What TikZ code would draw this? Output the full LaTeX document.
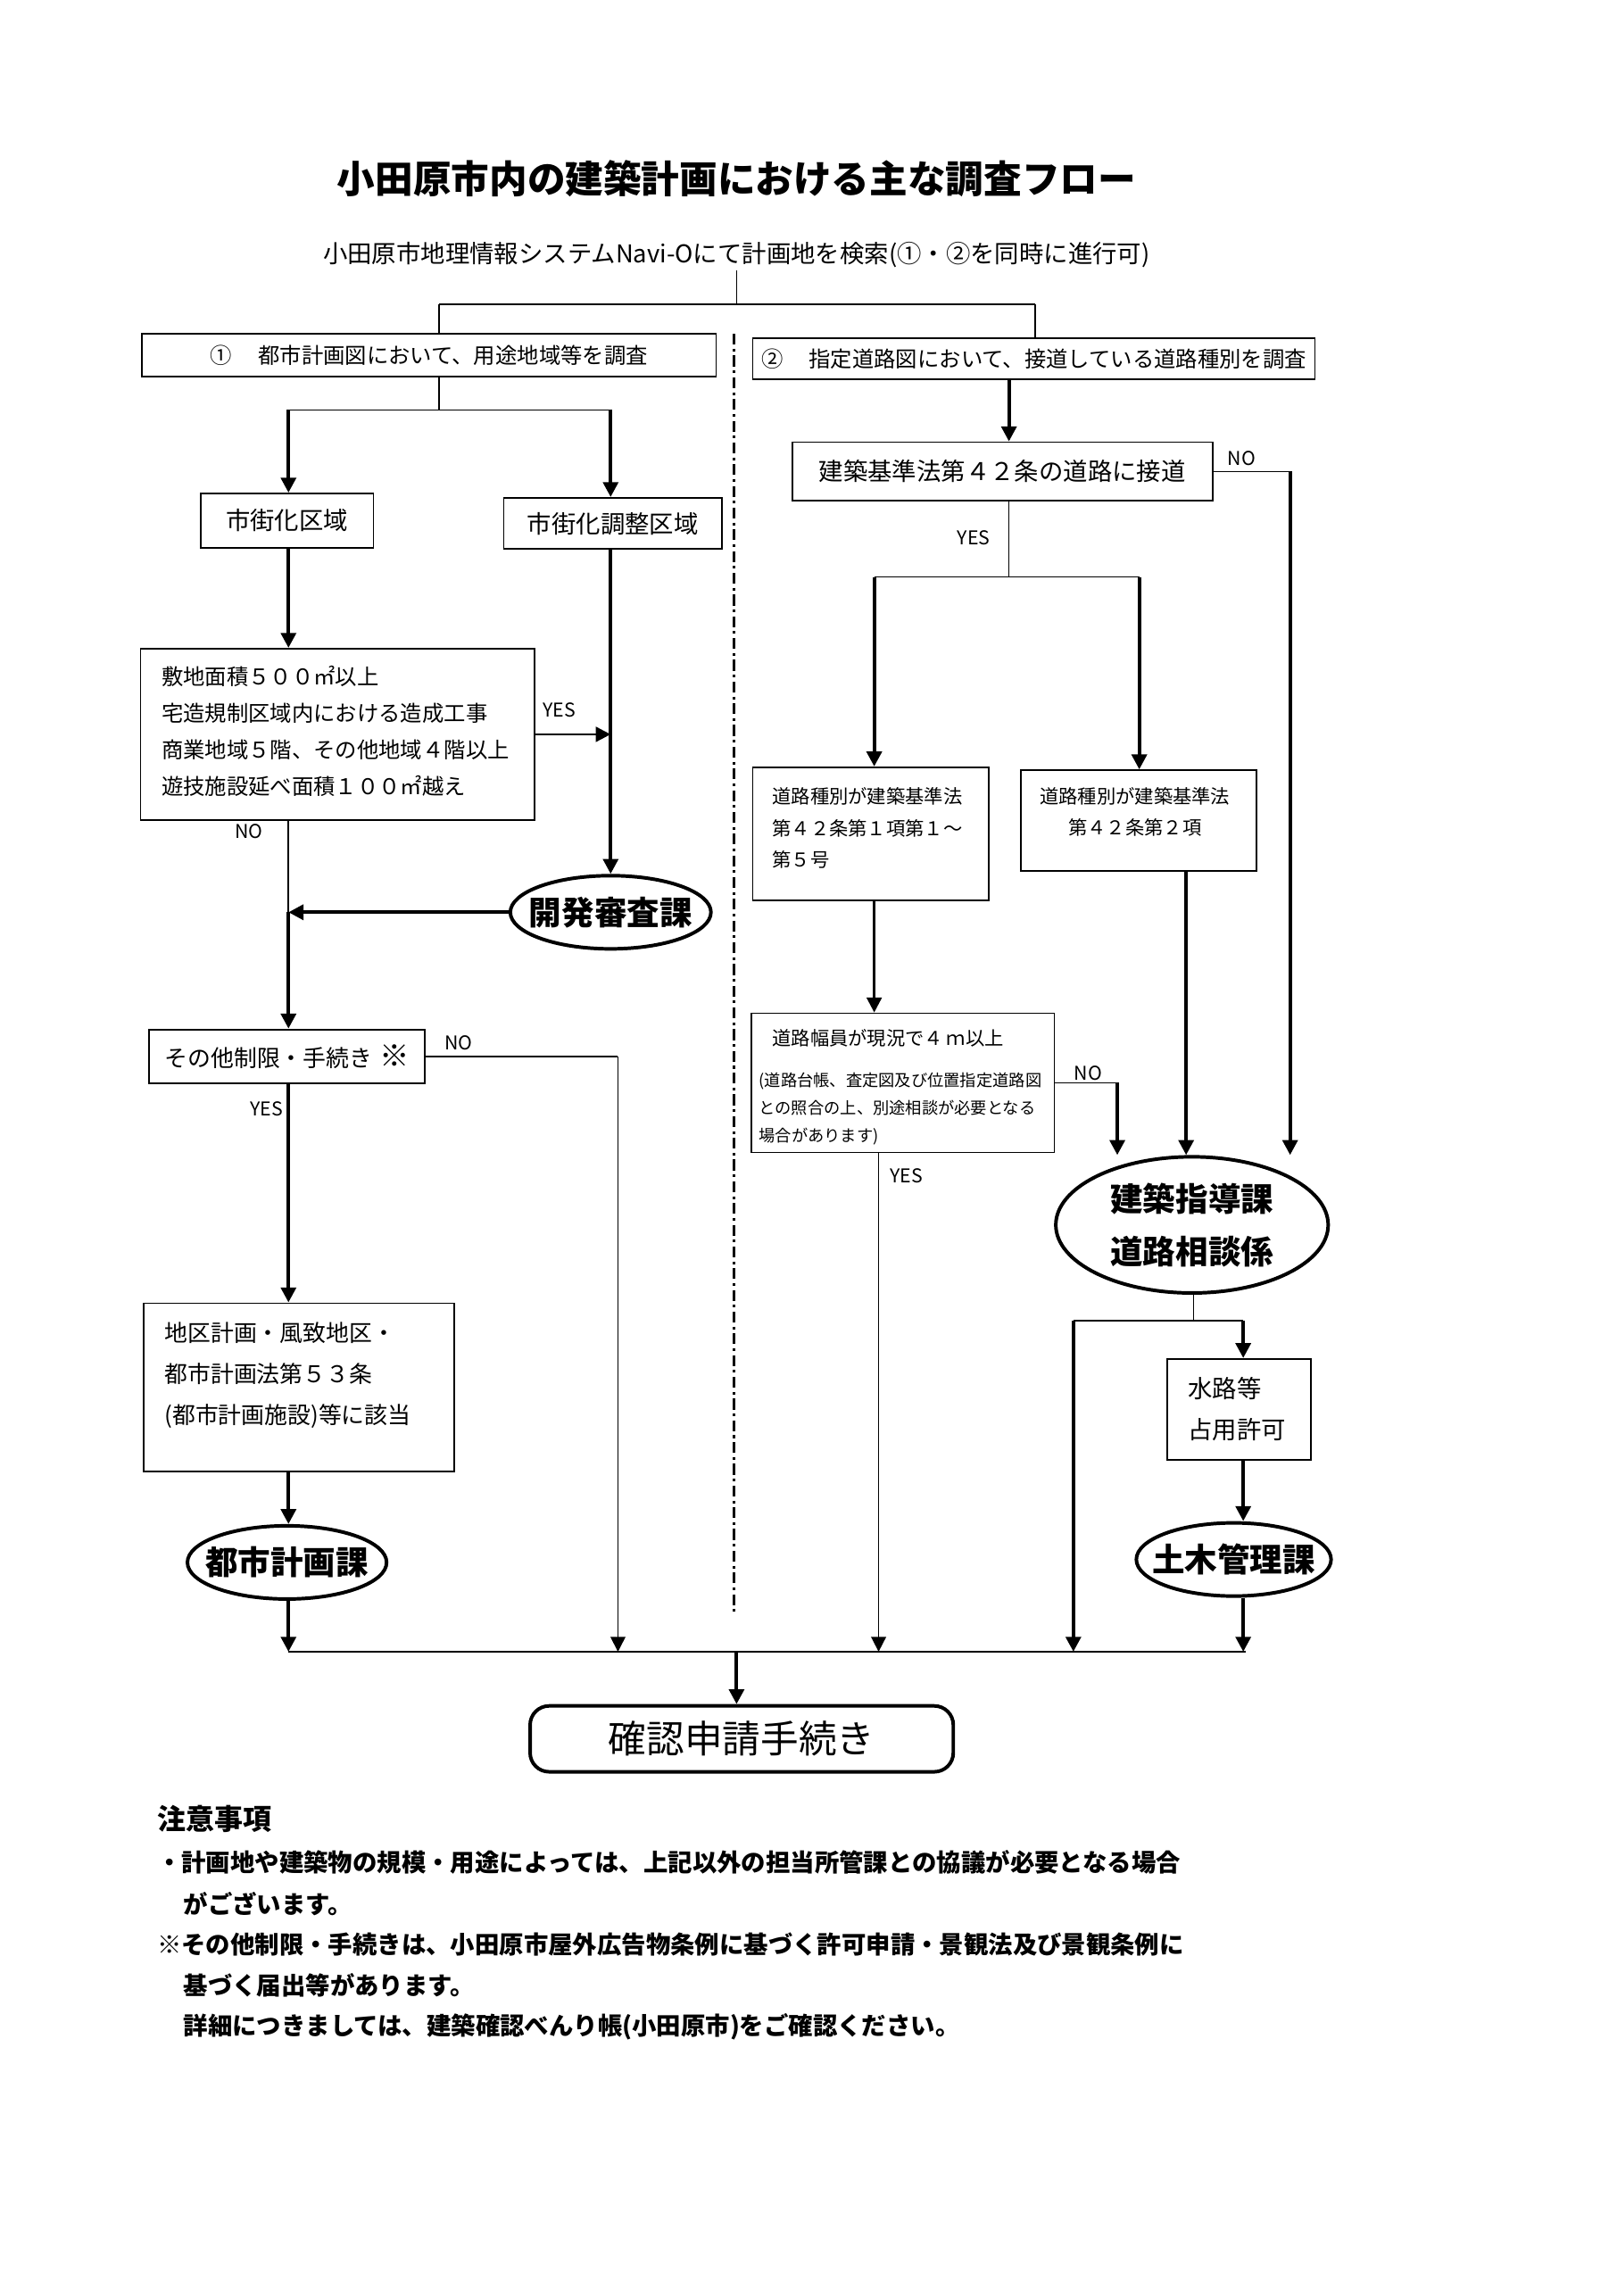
\documentclass[tikz,border=0pt]{standalone}
\usepackage{fontspec}
\setmainfont{Noto Sans CJK JP}
\usetikzlibrary{shapes.geometric,arrows.meta}
\newcommand{\pxu}{0.5391pt}
\begin{document}
\begin{tikzpicture}[x=\pxu,y=-\pxu,
  thinl/.style={line width=0.55pt},
  medl/.style={line width=0.9pt},
  thickl/.style={line width=1.3pt},
  arr/.style={-{Triangle[length=5.5pt,width=5.5pt]}},
  box/.style={draw,rectangle,line width=0.6pt,inner sep=0pt},
  ell/.style={draw,ellipse,line width=1.3pt,inner sep=0pt},
  etext/.style={font=\fontsize{12}{19.4}\bfseries\selectfont,inner sep=0pt,align=center},
  lab/.style={font=\fontsize{7}{8}\selectfont,inner sep=0pt},
  note/.style={anchor=west,inner sep=0pt,font=\fontsize{9}{11}\bfseries\selectfont}]
\path[use as bounding box,fill=white] (0,0) rectangle (1104,1568);

% title
\node[font=\fontsize{14}{16}\bfseries\selectfont] (title) at (503,122) {小田原市内の建築計画における主な調査フロー};
\node[font=\fontsize{9}{11}\selectfont,inner sep=1pt] (sub) at (503,174) {小田原市地理情報システムNavi-Oにて計画地を検索(①・②を同時に進行可)};

% top boxes
\node[box,minimum width=392*\pxu,minimum height=29*\pxu,font=\fontsize{8}{10}\selectfont] (box1) at (293,242.5) {①\hspace{1.2em}都市計画図において、用途地域等を調査};
\node[box,minimum width=384*\pxu,minimum height=28*\pxu,font=\fontsize{8}{10}\selectfont] (box2) at (706,245) {②\hspace{1.2em}指定道路図において、接道している道路種別を調査};

% divider
\coordinate (dv1) at (501,228);
\coordinate (dv2) at (501,1103);
\draw[line width=1pt,dash pattern=on 4pt off 1.5pt on 1pt off 1.5pt] (dv1) -- (dv2);

% left column nodes
\node[box,minimum width=118*\pxu,minimum height=37*\pxu,font=\fontsize{9}{11}\selectfont] (shigai) at (196,355.5) {市街化区域};
\node[box,minimum width=149*\pxu,minimum height=35*\pxu,font=\fontsize{9}{11}\selectfont] (chosei) at (418.5,357.5) {市街化調整区域};
\node[box,minimum width=269*\pxu,minimum height=117*\pxu] (box3) at (230.5,501.5) {};
\node[anchor=west,inner sep=0pt,align=left,font=\fontsize{8}{13.5}\selectfont] (box3t) at (110,499.5) {敷地面積５００㎡以上\\宅造規制区域内における造成工事\\商業地域５階、その他地域４階以上\\遊技施設延べ面積１００㎡越え};
\node[ell,minimum width=137*\pxu,minimum height=50*\pxu] (kaihatsu) at (417,623) {};
\node[etext] (kaihatsut) at (kaihatsu.center) {開発審査課};
\node[box,minimum width=188*\pxu,minimum height=37*\pxu,font=\fontsize{8.5}{10}\selectfont] (sonota) at (196,721.5) {その他制限・手続き\hspace{0.3em}{\fontsize{11}{11}\bfseries\selectfont ※}};
\node[box,minimum width=212*\pxu,minimum height=115*\pxu] (chiku) at (204,947.5) {};
\node[anchor=west,inner sep=0pt,align=left,font=\fontsize{8.5}{15.1}\selectfont] (chikut) at (112,939) {地区計画・風致地区・\\都市計画法第５３条\\(都市計画施設)等に該当};
\node[ell,minimum width=136*\pxu,minimum height=50*\pxu] (toshi) at (196,1067) {};
\node[etext] (toshit) at (toshi.center) {都市計画課};

% right column nodes
\node[box,minimum width=287*\pxu,minimum height=40*\pxu,font=\fontsize{9}{11}\selectfont] (bx42) at (684.5,322) {建築基準法第４２条の道路に接道};
\node[box,minimum width=161*\pxu,minimum height=91*\pxu] (bxA) at (594.5,569.5) {};
\node[anchor=west,inner sep=0pt,align=left,font=\fontsize{7}{11.6}\selectfont] (bxAt) at (527,565.5) {道路種別が建築基準法\\第４２条第１項第１～\\第５号};
\node[box,minimum width=161*\pxu,minimum height=69*\pxu] (bxB) at (777.5,560.5) {};
\node[inner sep=0pt,align=center,font=\fontsize{7}{11.3}\selectfont] (bxBt) at (775,554.5) {道路種別が建築基準法\\第４２条第２項};
\node[box,minimum width=207*\pxu,minimum height=95*\pxu] (bxC) at (616.5,739.5) {};
\node[anchor=west,inner sep=0pt,font=\fontsize{7}{9}\selectfont] (bxCt1) at (527,709) {道路幅員が現況で４\,ｍ以上};
\node[anchor=west,inner sep=0pt,align=left,font=\fontsize{6}{10.2}\selectfont] (bxCt2) at (518,757) {(道路台帳、査定図及び位置指定道路図\\との照合の上、別途相談が必要となる\\場合があります)};
\node[ell,minimum width=186*\pxu,minimum height=93*\pxu] (kenchiku) at (814,836.5) {};
\node[etext] (kenchikut) at (kenchiku.center) {建築指導課\\道路相談係};
\node[box,minimum width=98*\pxu,minimum height=69*\pxu] (suiro) at (846,962.5) {};
\node[anchor=west,inner sep=0pt,align=left,font=\fontsize{9}{15.1}\selectfont] (suirot) at (811,962) {水路等\\占用許可};
\node[ell,minimum width=133*\pxu,minimum height=50*\pxu] (doboku) at (842.5,1065) {};
\node[etext] (dobokut) at (doboku.center) {土木管理課};

% final box
\node[draw,line width=1.3pt,rounded corners=7pt,minimum width=289*\pxu,minimum height=45*\pxu,font=\fontsize{14}{16}\selectfont] (kakunin) at (506.5,1187.5) {確認申請手続き};

% labels
\node[lab] (yes1) at (382,485) {YES};
\node[lab] (no1) at (170,568) {NO};
\node[lab] (no2) at (313,712) {NO};
\node[lab] (yes2) at (182,757) {YES};
\node[lab] (no3) at (848,313) {NO};
\node[lab] (yes3) at (665,367) {YES};
\node[lab] (no4) at (743,733) {NO};
\node[lab] (yes4) at (619,803) {YES};

% coordinates
\coordinate (j0) at (503,208);
\coordinate (j0L) at (300,208);
\coordinate (j0R) at (707,208);
\coordinate (j1) at (300,280);
\coordinate (j1L) at (197,280);
\coordinate (j1R) at (417,280);
\coordinate (nS) at (422,721);
\coordinate (busL) at (197,1128);
\coordinate (busR) at (851,1128);
\coordinate (busM) at (503,1128);
\coordinate (cR) at (689,259);
\coordinate (n42) at (881,322);
\coordinate (jy) at (689,394);
\coordinate (jyL) at (597,394);
\coordinate (jyR) at (778,394);
\coordinate (nC) at (763,740);
\coordinate (cB) at (810,595);
\coordinate (cY) at (600,787);
\coordinate (jk) at (815,902);
\coordinate (jkL) at (733,902);
\coordinate (jkR) at (849,902);

% top connectors
\draw[thinl] (sub.south -| j0) -- (j0);
\draw[thinl] (j0L) -- (j0R);
\draw[thinl] (j0L) -- (j0L |- box1.north);
\draw[thinl] (j0R) -- (j0R |- box2.north);

% left connectors
\draw[thinl] (box1.south -| j1) -- (j1);
\draw[thinl] (j1L) -- (j1R);
\draw[thickl,arr] (j1L) -- (j1L |- shigai.north);
\draw[thickl,arr] (j1R) -- (j1R |- chosei.north);
\draw[thickl,arr] (shigai.south -| j1L) -- (j1L |- box3.north);
\draw[thickl,arr] (chosei.south -| j1R) -- (j1R |- kaihatsu.north);
\draw[medl,arr] (box3.east) -- (box3.east -| j1R);
\draw[thinl] (box3.south -| j1L) -- (kaihatsu.west -| j1L);
\draw[thickl,arr] (kaihatsu.west -| j1L) -- (sonota.north -| j1L);
\draw[thickl,arr] (kaihatsu.west) -- (kaihatsu.west -| j1L);
\draw[thinl] (sonota.east) -- (sonota.east -| nS);
\draw[thinl,arr] (sonota.east -| nS) -- (nS |- busL);
\draw[thickl,arr] (sonota.south -| j1L) -- (chiku.north -| j1L);
\draw[thickl,arr] (chiku.south -| j1L) -- (toshi.north -| j1L);
\draw[thickl,arr] (toshi.south -| j1L) -- (busL);

% right connectors
\draw[thickl,arr] (box2.south -| cR) -- (bx42.north -| cR);
\draw[thinl] (bx42.east) -- (n42);
\draw[thickl,arr] (n42) -- (n42 |- kenchiku.north);
\draw[thinl] (bx42.south -| jy) -- (jy);
\draw[thinl] (jyL) -- (jyR);
\draw[thickl,arr] (jyL) -- (jyL |- bxA.north);
\draw[thickl,arr] (jyR) -- (jyR |- bxB.north);
\draw[medl,arr] (bxA.south -| jyL) -- (bxC.north -| jyL);
\draw[thinl] (bxC.east) -- (bxC.east -| nC);
\draw[thickl,arr] (bxC.east -| nC) -- (nC |- kenchiku.north);
\draw[thickl,arr] (bxB.south -| cB) -- (cB |- kenchiku.north);
\draw[thinl,arr] (bxC.south -| cY) -- (cY |- busL);
\draw[thinl] (kenchiku.south -| jk) -- (jk);
\draw[thinl] (jkL) -- (jkR);
\draw[thickl,arr] (jkR) -- (jkR |- suiro.north);
\draw[thickl,arr] (jkL) -- (jkL |- busL);
\draw[thickl,arr] (suiro.south -| jkR) -- (jkR |- doboku.north);
\draw[thickl,arr] (doboku.south -| jkR) -- (jkR |- busL);

% bus
\draw[thinl] (busL) -- (busR);
\draw[thickl,arr] (busM) -- (busM |- kakunin.north);

% notes
\node[anchor=west,inner sep=0pt,font=\fontsize{10.5}{12}\bfseries\selectfont] (nt0) at (107,1242) {注意事項};
\node[note] (nt1) at (107,1272) {・計画地や建築物の規模・用途によっては、上記以外の担当所管課との協議が必要となる場合};
\node[note] (nt2) at (125,1300) {がございます。};
\node[note] (nt3) at (107,1328) {※その他制限・手続きは、小田原市屋外広告物条例に基づく許可申請・景観法及び景観条例に};
\node[note] (nt4) at (125,1356) {基づく届出等があります。};
\node[note] (nt5) at (125,1384) {詳細につきましては、建築確認べんり帳(小田原市)をご確認ください。};
\end{tikzpicture}
\end{document}
